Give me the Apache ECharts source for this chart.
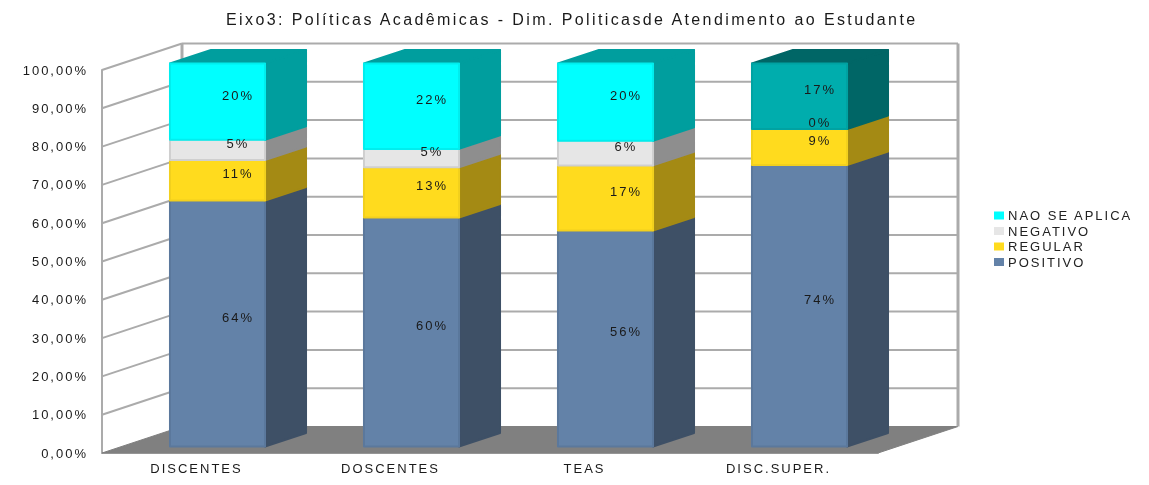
<!DOCTYPE html>
<html>
<head>
<meta charset="utf-8">
<title>Eixo3</title>
<script src="https://cdn.jsdelivr.net/npm/echarts@6/dist/echarts.min.js"></script>
<style>
    html,body{margin:0;padding:0;background:#fff;}
    #chart{width:1149px;height:485px;filter:blur(0.45px);}
    #chart text{letter-spacing:2px;}
    #chart text[style*="16px"]{letter-spacing:2.4px;}
</style>
</head>
<body>
<div id="chart"></div>
<script>
    var categories = ['DISCENTES', 'DOSCENTES', 'TEAS', 'DISC.SUPER.'];
    var positivo = [64.2, 59.8, 56.4, 73.5];
    var regular = [10.6, 13.1, 17.0, 9.4];
    var negativo = [5.3, 4.8, 6.4, 0];
    var naoSeAplica = [19.9, 22.3, 20.2, 17.1];
    var yTicks = [0, 10, 20, 30, 40, 50, 60, 70, 80, 90, 100];

    var seriesNames = ['POSITIVO', 'REGULAR', 'NEGATIVO', 'NAO SE APLICA'];
    var seriesValues = [positivo, regular, negativo, naoSeAplica];

    var FONT = '"Liberation Sans", Arial, sans-serif';
    var GRID_COLOR = '#ababab';
    /* profundidade do "3D" */
    var WALL = {dx: 80, dy: 26.5};
    var BAR_OFF = {dx: 18.5, dy: 6.5};
    var BAR_DEPTH = {dx: 41, dy: 13.5};
    var LABEL_OFF = {dx: 39, dy: 13};
    var BAR_RATIO = 0.49;

    var palette = [
        {face: '#6382a8', side: '#3e5066', edge: '#5b789c'},
        {face: '#ffdb1e', side: '#a48a14', edge: '#f2d01e'},
        {face: '#e6e6e6', side: '#8e8e8e', edge: '#cfcfcf'},
        {face: '#00ffff', side: '#009e9e', edge: '#00eeee'}
    ];
    /* a ultima coluna tem o segmento de cima mais escuro */
    var darkTop = {face: '#00adad', side: '#006666', edge: '#00a2a2'};

    /*monta as linhas [categoria, base, topo, valor] de cada serie*/
    function buildRows(index) {
        return categories.map(function (c, i) {
            var base = 0;
            for (var s = 0; s < index; s++) {
                base += seriesValues[s][i];
            }
            return [i, base, base + seriesValues[index][i], seriesValues[index][i]];
        });
    }

    function poly(points, fill, stroke, width) {
        return {
            type: 'polygon',
            shape: {points: points},
            style: {fill: fill, stroke: stroke || fill, lineWidth: width || 1, lineJoin: 'round'},
            silent: true
        };
    }

    function renderWalls(params, api) {
        var sys = params.coordSys;
        var v = api.value(0);
        var y = api.coord([0, v])[1];
        var left = sys.x;
        var right = sys.x + sys.width;
        var line = function (x1, y1, x2, y2, w) {
            return {
                type: 'line',
                shape: {x1: x1, y1: y1, x2: x2, y2: y2},
                style: {stroke: GRID_COLOR, lineWidth: w || 2},
                silent: true
            };
        };
        var children = [];
        if (v > 0) {
            children.push(line(left, y, left + WALL.dx, y - WALL.dy));
            children.push(line(left + WALL.dx, y - WALL.dy, right + WALL.dx, y - WALL.dy));
        }
        if (v === 100) {
            var bottom = api.coord([0, 0])[1];
            children.push(line(left + WALL.dx, y - WALL.dy, left + WALL.dx, bottom - WALL.dy, 3));
            children.push(line(right + WALL.dx, y - WALL.dy, right + WALL.dx, bottom - WALL.dy, 3));
        }
        if (v === 0) {
            children.push(poly([
                [left, y],
                [right, y],
                [right + WALL.dx, y - WALL.dy],
                [left + WALL.dx, y - WALL.dy]
            ], '#808080'));
        }
        return {type: 'group', children: children};
    }

    function renderSegment(params, api) {
        var idx = api.value(0);
        var start = api.coord([idx, api.value(1)]);
        var end = api.coord([idx, api.value(2)]);
        var band = api.size([1, 0])[0];
        var w = band * BAR_RATIO;
        var x0 = start[0] - w / 2 + BAR_OFF.dx;
        var x1 = x0 + w;
        var y0 = start[1] - BAR_OFF.dy;
        var y1 = end[1] - BAR_OFF.dy;
        var dx = BAR_DEPTH.dx;
        var dy = BAR_DEPTH.dy;
        var top = api.value(2) > 99.9;
        var c = palette[params.seriesIndex - 1];
        if (top && idx === 3) {
            c = darkTop;
        }
        var children = [];
        if (api.value(3) > 0) {
            children.push(poly([[x1, y0], [x1 + dx, y0 - dy], [x1 + dx, y1 - dy], [x1, y1]], c.side, c.side, 2));
            if (top) {
                children.push(poly([[x0, y1], [x1, y1], [x1 + dx, y1 - dy], [x0 + dx, y1 - dy]], c.side, c.side, 2));
            }
            children.push(poly([[x0, y0], [x1, y0], [x1, y1], [x0, y1]], c.face, c.edge, 2));
        }
        return {type: 'group', children: children};
    }

    /*rotulos numa serie propria para ficarem sobre todos os segmentos*/
    function renderLabel(params, api) {
        var start = api.coord([api.value(0), api.value(1)]);
        var end = api.coord([api.value(0), api.value(2)]);
        return {
            type: 'text',
            x: start[0] + LABEL_OFF.dx,
            y: (start[1] + end[1]) / 2 - LABEL_OFF.dy,
            silent: true,
            style: {
                text: Math.round(api.value(3)) + '%',
                fill: '#1a1a1a',
                font: '13px ' + FONT,
                align: 'center',
                verticalAlign: 'middle'
            }
        };
    }

    var chart = echarts.init(document.getElementById('chart'), null, {renderer: 'svg'});

    var series = [{
        name: 'paredes',
        type: 'custom',
        renderItem: renderWalls,
        data: yTicks.map(function (v) { return [v]; }),
        encode: {y: 0},
        silent: true,
        z: 1,
        clip: false
    }];
    var labelRows = [];
    seriesNames.forEach(function (name, i) {
        var rows = buildRows(i);
        labelRows = labelRows.concat(rows);
        series.push({
            name: name,
            type: 'custom',
            renderItem: renderSegment,
            data: rows,
            encode: {x: 0, y: [1, 2]},
            itemStyle: {color: palette[i].face},
            silent: true,
            z: 2 + i,
            clip: false
        });
    });
    series.push({
        name: 'rotulos',
        type: 'custom',
        renderItem: renderLabel,
        data: labelRows,
        encode: {x: 0, y: [1, 2]},
        silent: true,
        z: 10,
        clip: false
    });

    chart.setOption({
        animation: false,
        backgroundColor: '#fff',
        title: {
            text: 'Eixo3: Políticas Acadêmicas - Dim. Politicasde Atendimento ao Estudante',
            left: 221,
            top: 6,
            textStyle: {fontFamily: FONT, fontSize: 16, fontWeight: 'normal', color: '#1a1a1a'}
        },
        legend: {
            orient: 'vertical',
            left: 994,
            top: 209,
            padding: 0,
            itemWidth: 10,
            itemHeight: 8,
            itemGap: 2.5,
            selectedMode: false,
            icon: 'rect',
            data: ['NAO SE APLICA', 'NEGATIVO', 'REGULAR', 'POSITIVO'],
            textStyle: {fontFamily: FONT, fontSize: 13, color: '#222', padding: [0, 0, 0, -1]}
        },
        grid: {left: 102, right: 271, top: 70, bottom: 32, containLabel: false},
        xAxis: {
            type: 'category',
            data: categories,
            axisLine: {lineStyle: {color: GRID_COLOR, width: 2}},
            axisTick: {show: false},
            axisLabel: {fontFamily: FONT, fontSize: 13, color: '#1a1a1a', margin: 9, interval: 0, padding: [0, 5, 0, 0]}
        },
        yAxis: {
            type: 'value',
            min: 0,
            max: 100,
            interval: 10,
            splitLine: {show: false},
            axisLine: {show: true, lineStyle: {color: GRID_COLOR, width: 2}},
            axisTick: {show: false},
            axisLabel: {
                fontFamily: FONT,
                fontSize: 13,
                color: '#1a1a1a',
                margin: 14,
                formatter: function (v) { return v.toFixed(2).replace('.', ',') + '%'; }
            }
        },
        series: series
    });
</script>
</body>
</html>
